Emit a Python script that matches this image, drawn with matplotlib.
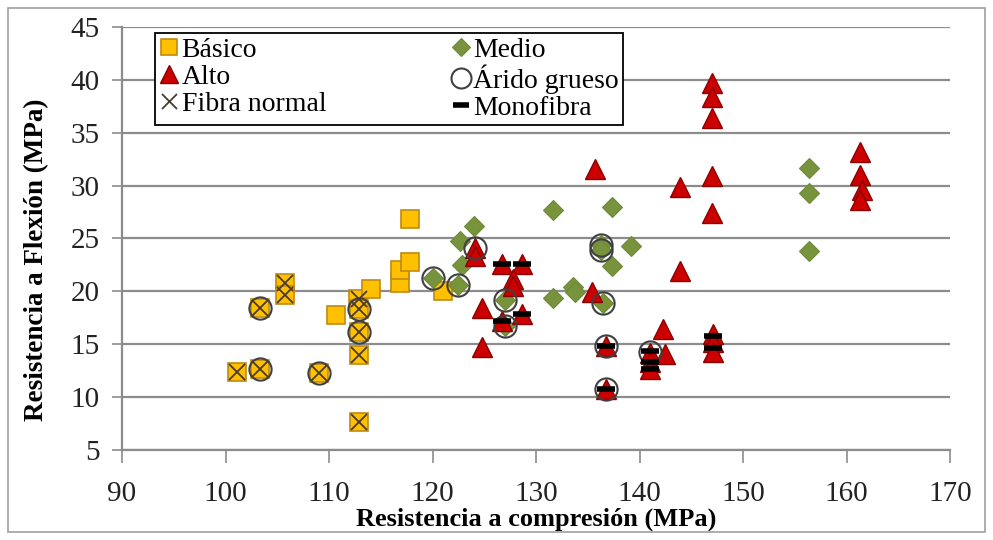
import matplotlib
matplotlib.use("Agg")
import matplotlib.pyplot as plt
from matplotlib.patches import Rectangle

plt.rcParams["font.family"] = ["Liberation Serif", "DejaVu Serif"]

# ---------------------------------------------------------------------------
# Data
# ---------------------------------------------------------------------------
basico_x = [101.1, 103.3, 103.3, 105.7, 105.7, 109.0, 110.7, 112.8, 112.9, 112.9,
            112.9, 112.9, 114.1, 116.9, 116.9, 117.8, 117.8, 121.0]
basico_y = [12.4, 12.7, 18.4, 20.8, 19.7, 12.3, 17.8, 19.3, 18.3, 16.2,
            14.0, 7.6, 20.2, 20.8, 22.0, 22.8, 26.8, 20.0]

medio_x = [120.0, 122.5, 122.8, 122.7, 124.0, 127.0, 127.0, 131.6, 131.6, 133.6,
           133.8, 136.3, 136.3, 137.3, 139.2, 137.3, 136.5, 156.4, 156.4, 156.4]
medio_y = [21.3, 20.6, 22.5, 24.8, 26.2, 19.2, 16.7, 27.7, 19.4, 20.4,
           19.9, 24.4, 23.9, 28.0, 24.3, 22.4, 18.9, 31.7, 29.3, 23.8]

alto_x = [124.1, 124.1, 124.8, 124.8, 126.7, 126.7, 128.6, 127.8, 127.8, 128.6,
          135.4, 135.7, 136.8, 136.8, 141.0, 141.0, 141.0, 142.3, 142.5, 143.9,
          143.9, 147.0, 147.0, 147.0, 147.0, 147.0, 147.1, 147.1, 147.1,
          161.3, 161.3, 161.5, 161.3]
alto_y = [24.1, 23.3, 18.4, 14.7, 22.6, 17.2, 22.6, 21.2, 20.5, 17.9,
          19.9, 31.6, 14.8, 10.8, 14.2, 13.3, 12.7, 16.4, 14.1, 29.9,
          21.9, 39.7, 38.4, 36.4, 30.9, 27.4, 16.0, 15.2, 14.3,
          33.2, 31.0, 29.6, 28.6]

arido_x = [103.3, 103.3, 109.0, 112.9, 112.9, 120.0, 122.5, 124.1, 127.0, 127.0,
           136.3, 136.3, 136.5, 136.8, 136.8, 141.0]
arido_y = [12.7, 18.4, 12.3, 18.3, 16.2, 21.3, 20.6, 24.1, 19.2, 16.7,
           24.4, 23.9, 18.9, 14.8, 10.8, 14.3]

fibra_x = [101.1, 103.3, 103.3, 105.7, 105.7, 109.0, 112.9, 112.9, 112.9, 112.9, 112.9]
fibra_y = [12.4, 12.7, 18.4, 20.8, 19.7, 12.3, 19.3, 18.3, 16.2, 14.0, 7.6]

mono_x = [126.7, 126.7, 128.6, 128.6, 136.8, 136.8, 141.0, 141.0, 141.0, 147.1, 147.1]
mono_y = [22.6, 17.2, 22.6, 17.9, 14.8, 10.8, 14.4, 13.3, 12.7, 15.8, 14.6]

x_ticks = [90, 100, 110, 120, 130, 140, 150, 160, 170]
y_ticks = [5, 10, 15, 20, 25, 30, 35, 40, 45]

# ---------------------------------------------------------------------------
# Figure
# ---------------------------------------------------------------------------
fig = plt.figure(figsize=(9.93, 5.40), dpi=100)
ax = fig.add_axes([0.1229, 0.1667, 0.8338, 0.7833])

GRID = "#8c8c8c"

ax.plot(basico_x, basico_y, "s", ms=13.5, mfc="#FFC000", mec="#C08A10", mew=1.2,
        ls="none", label="Básico", zorder=3)
ax.plot(medio_x, medio_y, "D", ms=10, mfc="#77933C", mec="#6E8A38", mew=0.8,
        ls="none", label="Medio", zorder=3)
ax.plot(alto_x, alto_y, "^", ms=14.5, mfc="#CC0000", mec="#8B0000", mew=1.0,
        ls="none", label="Alto", zorder=3)
ax.plot(arido_x, arido_y, "o", ms=16, mfc="none", mec="#404040", mew=1.5,
        ls="none", label="Árido grueso", zorder=4)
ax.plot(fibra_x, fibra_y, "x", ms=12, mec="#4a3a2a", mew=1.3,
        ls="none", label="Fibra normal", zorder=5)
ax.plot(mono_x, mono_y, "_", ms=13, mec="black", mew=4,
        ls="none", label="Monofibra", zorder=6)

ax.set_xlim(90, 170)
ax.set_ylim(5, 45)
ax.set_xticks(x_ticks)
ax.set_yticks(y_ticks)
ax.yaxis.grid(True, color=GRID, lw=1.6)
ax.set_axisbelow(True)

for side in ("top", "right"):
    ax.spines[side].set_visible(False)
for side in ("left", "bottom"):
    ax.spines[side].set_color(GRID)
    ax.spines[side].set_linewidth(1.6)

ax.tick_params(axis="y", length=7, width=1.2, color=GRID, labelsize=21, pad=9,
               labelcolor="#222222")
ax.tick_params(axis="x", length=9, width=1.2, color=GRID, labelsize=21, pad=13,
               labelcolor="#222222")

ax.set_xlabel("Resistencia a compresión (MPa)", fontsize=19, fontweight="bold", labelpad=1)
ax.set_ylabel("Resistencia a Flexión (MPa)", fontsize=19.5, fontweight="bold")
ax.yaxis.set_label_coords(-0.088, 0.45)

# legend: column-wise fill gives Básico/Alto/Fibra | Medio/Árido/Monofibra
h, l = ax.get_legend_handles_labels()
order = [0, 2, 4, 1, 3, 5]
leg = ax.legend([h[i] for i in order], [l[i] for i in order], ncol=2,
                loc="upper left", bbox_to_anchor=(0.04, 0.985),
                fontsize=20, frameon=True, fancybox=False,
                edgecolor="black", framealpha=1, borderpad=0.15,
                labelspacing=0.05, handlelength=0.7, handletextpad=0.1,
                columnspacing=4.5, borderaxespad=0, markerscale=0.9)
leg.get_frame().set_linewidth(1.3)

fig.patches.append(Rectangle((0.008, 0.015), 0.984, 0.97, transform=fig.transFigure,
                             fill=False, edgecolor="#a0a0a0", lw=1.2))

fig.savefig("out.png", dpi=100)
